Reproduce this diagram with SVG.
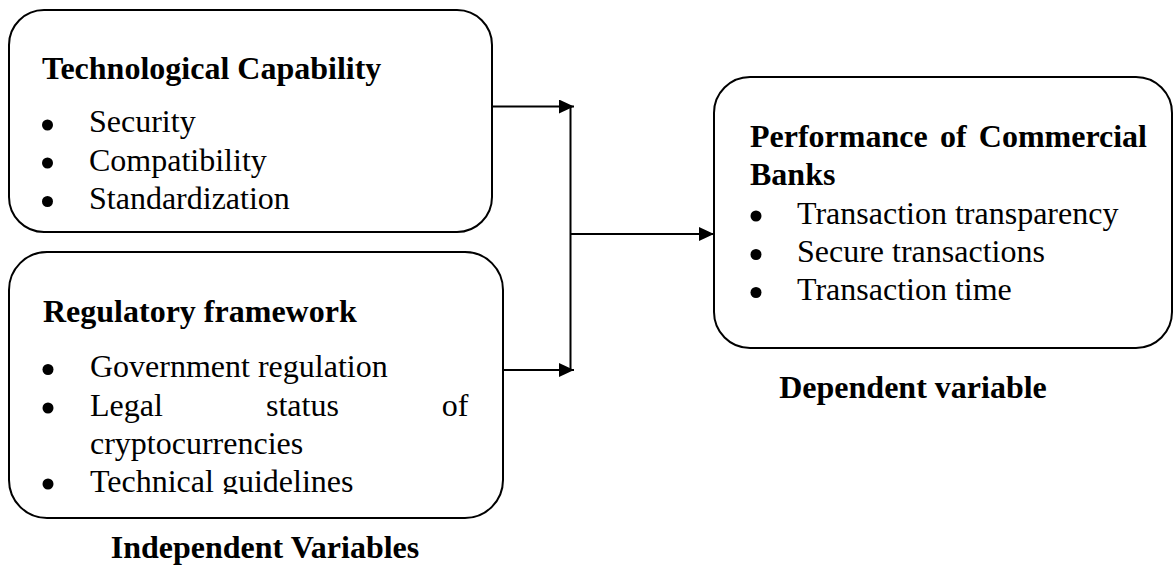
<svg xmlns="http://www.w3.org/2000/svg" width="1174" height="565" viewBox="0 0 1174 565">
  <style>
    .box { fill: #ffffff; stroke: #000000; stroke-width: 2; }
    .t { font-family: "Liberation Serif", "Times New Roman", serif; font-size: 32px; fill: #000000; }
    .b { font-weight: bold; }
    .wire { fill: none; stroke: #000000; stroke-width: 2; }
    .dot { fill: #000000; }
  </style>
  <defs>
    <marker id="arrow" markerWidth="15" markerHeight="14" viewBox="0 0 15 14" refX="15" refY="7" orient="auto" markerUnits="userSpaceOnUse">
      <path d="M0,0 L15,7 L0,14 Z" fill="#000000"/>
    </marker>
    <clipPath id="regClip">
      <rect x="0" y="250" width="520" height="244"/>
    </clipPath>
  </defs>

  <rect width="1174" height="565" fill="#ffffff"/>

  <!-- Independent variable: technological capability -->
  <g id="node-tech">
    <rect class="box" x="9" y="10" width="483" height="222" rx="35" ry="35"/>
    <text class="t b" x="42" y="78.5">Technological Capability</text>
    <circle class="dot" cx="47.5" cy="125" r="5.5"/>
    <text class="t" x="89" y="132">Security</text>
    <circle class="dot" cx="47.5" cy="163" r="5.5"/>
    <text class="t" x="89" y="170.5">Compatibility</text>
    <circle class="dot" cx="47.5" cy="201.5" r="5.5"/>
    <text class="t" x="89" y="209">Standardization</text>
  </g>

  <!-- Independent variable: regulatory framework -->
  <g id="node-reg">
    <rect class="box" x="9" y="252" width="494" height="266" rx="38" ry="38"/>
    <text class="t b" x="43" y="322">Regulatory framework</text>
    <g clip-path="url(#regClip)">
      <circle class="dot" cx="48" cy="369.5" r="5.5"/>
      <text class="t" x="90" y="377">Government regulation</text>
      <circle class="dot" cx="48" cy="408" r="5.5"/>
      <text class="t" x="90" y="415.5">Legal</text>
      <text class="t" x="266" y="415.5">status</text>
      <text class="t" x="468.5" y="415.5" text-anchor="end">of</text>
      <text class="t" x="90" y="453.5">cryptocurrencies</text>
      <circle class="dot" cx="48" cy="484" r="5.5"/>
      <text class="t" x="90" y="491.5">Technical guidelines</text>
    </g>
  </g>

  <!-- Dependent variable: bank performance -->
  <g id="node-perf">
    <rect class="box" x="714" y="77" width="458" height="271" rx="36" ry="36"/>
    <text class="t b" x="750" y="147">Performance</text>
    <text class="t b" x="940" y="147">of</text>
    <text class="t b" x="1147" y="147" text-anchor="end">Commercial</text>
    <text class="t b" x="750" y="185">Banks</text>
    <circle class="dot" cx="756" cy="216" r="5.5"/>
    <text class="t" x="797" y="224">Transaction transparency</text>
    <circle class="dot" cx="756" cy="254.5" r="5.5"/>
    <text class="t" x="797" y="262">Secure transactions</text>
    <circle class="dot" cx="756" cy="292.5" r="5.5"/>
    <text class="t" x="797" y="300">Transaction time</text>
  </g>

  <!-- Group captions -->
  <g id="label-independent">
    <text class="t b" x="265" y="557.5" text-anchor="middle">Independent Variables</text>
  </g>
  <g id="label-dependent">
    <text class="t b" x="913" y="398" text-anchor="middle">Dependent variable</text>
  </g>

  <!-- Connectors -->
  <g id="connectors">
    <line class="wire" x1="492" y1="106.5" x2="574" y2="106.5" marker-end="url(#arrow)"/>
    <line class="wire" x1="503" y1="370" x2="574" y2="370" marker-end="url(#arrow)"/>
    <line class="wire" x1="570.5" y1="106.5" x2="570.5" y2="370"/>
    <line class="wire" x1="570.5" y1="234" x2="714" y2="234" marker-end="url(#arrow)"/>
  </g>
</svg>
